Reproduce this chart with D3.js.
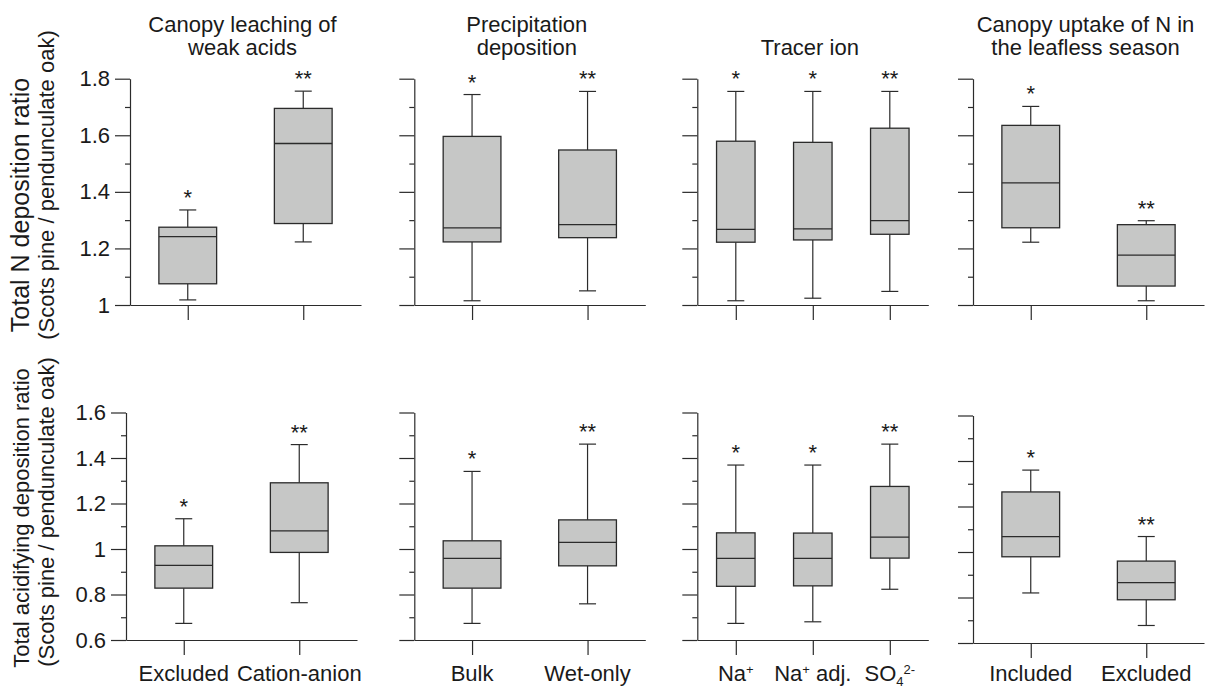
<!DOCTYPE html>
<html>
<head>
<meta charset="utf-8">
<script src="https://cdn.jsdelivr.net/npm/d3@7"></script>
<style>
  body { margin: 0; background: #fff; }
  svg { display: block; font-family: "Liberation Sans", Arial, Helvetica, sans-serif; }
</style>
</head>
<body>
<svg id="chart" width="1207" height="689"></svg>
<script>
// ---- data ----
const panelTitles = [
  ['Canopy leaching of', 'weak acids'],
  ['Precipitation', 'deposition'],
  ['Tracer ion'],
  ['Canopy uptake of N in', 'the leafless season']
];
// ^{..} = superscript, _{..} = subscript
const categories = [
  ['Excluded', 'Cation-anion'],
  ['Bulk', 'Wet-only'],
  ['Na^{+}', 'Na^{+} adj.', 'SO_{4}^{2-}'],
  ['Included', 'Excluded']
];
const stars = [
  ['*', '**'],
  ['*', '**'],
  ['*', '*', '**'],
  ['*', '**']
];
// [whisker low, Q1, median, Q3, whisker high]
const totalNStats = [
  [[1.018, 1.075, 1.242, 1.275, 1.336], [1.223, 1.288, 1.571, 1.695, 1.756]],
  [[1.015, 1.223, 1.273, 1.596, 1.744], [1.050, 1.238, 1.284, 1.548, 1.755]],
  [[1.015, 1.222, 1.267, 1.579, 1.755], [1.024, 1.230, 1.269, 1.575, 1.755], [1.048, 1.250, 1.298, 1.625, 1.755]],
  [[1.222, 1.273, 1.432, 1.635, 1.702], [1.015, 1.067, 1.176, 1.284, 1.298]]
];
const acidStats = [
  [[0.673, 0.828, 0.928, 1.014, 1.133], [0.764, 0.985, 1.080, 1.291, 1.459]],
  [[0.673, 0.828, 0.959, 1.036, 1.341], [0.759, 0.926, 1.029, 1.128, 1.461]],
  [[0.673, 0.836, 0.959, 1.071, 1.369], [0.680, 0.838, 0.959, 1.070, 1.369], [0.823, 0.960, 1.052, 1.275, 1.461]],
  [[0.820, 0.979, 1.068, 1.264, 1.360], [0.677, 0.790, 0.865, 0.960, 1.068]]
];
const totalNTicks = [1, 1.2, 1.4, 1.6, 1.8];
const acidTicks = [0.6, 0.8, 1, 1.2, 1.4, 1.6];
const rowTitles = [
  ['Total N deposition ratio', '(Scots pine / pendunculate oak)'],
  ['Total acidifying deposition ratio', '(Scots pine / pendunculate oak)']
];

// ---- layout ----
const W = 231;
const FONT = 22;
const INK = '#2b2b2b';
const BOX_FILL = '#c6c7c6';

const rows = [
  { stats: totalNStats, ticks: totalNTicks, bottom: 305, top: 78.7,
    xs: [130, 414.3, 697.3, 973], shift: [0, 0, 0, 0], xLabels: false,
    titleY: 205, titleY2: 185, titleSize: 25 },
  { stats: acidStats, ticks: acidTicks, bottom: 640, top: 412.5,
    xs: [126, 414.3, 697.3, 973], shift: [0, 0, 0, 3], xLabels: true,
    titleY: 518, titleY2: 512, titleSize: 22 }
];

const svg = d3.select('#chart');
const fmt = d => String(+d.toFixed(1));

function styleAxis(sel) {
  sel.attr('font-size', FONT).attr('font-family', null);
  sel.selectAll('path, line').attr('stroke', INK).attr('stroke-width', 1.2);
  sel.selectAll('text').attr('fill', '#1a1a1a');
}

// writes a label with sub/superscripts into a text element
function richLabel(text, label) {
  const parts = label.split(/(\^\{[^}]*\}|_\{[^}]*\})/).filter(s => s.length);
  let shift = 0;
  parts.forEach(p => {
    let target = 0, size = null, str = p;
    if (p.startsWith('^{')) { target = -7; size = 13; str = p.slice(2, -1); }
    else if (p.startsWith('_{')) { target = 5; size = 13; str = p.slice(2, -1); }
    const t = text.append('tspan').attr('dy', target - shift).text(str);
    if (size) t.attr('font-size', size);
    shift = target;
  });
}

rows.forEach((row, r) => {
  const [lo, hi] = d3.extent(row.ticks);
  const minor = d3.range(Math.round(lo * 10), Math.round(hi * 10) + 1)
    .map(v => v / 10)
    .filter(v => !row.ticks.some(t => Math.abs(t - v) < 1e-6));

  row.stats.forEach((panelStats, p) => {
    const g = svg.append('g')
      .attr('transform', `translate(${row.xs[p]},${row.shift[p]})`);

    const y = d3.scaleLinear().domain([lo, hi]).range([row.bottom, row.top]);
    const x = d3.scalePoint().domain(categories[p]).range([0, W]).padding(0.5);
    const bw = x.step() * 0.5;
    const cap = 17;

    // minor y ticks
    g.append('g')
      .call(d3.axisLeft(y).tickValues(minor).tickSize(5).tickFormat(''))
      .call(styleAxis)
      .call(a => a.select('.domain').remove());

    // major y ticks + spine
    g.append('g')
      .call(d3.axisLeft(y).tickValues(row.ticks).tickSize(15).tickSizeOuter(0)
        .tickPadding(5).tickFormat(p === 0 ? fmt : ''))
      .call(styleAxis);

    // x axis
    g.append('g')
      .attr('transform', `translate(0,${row.bottom})`)
      .call(d3.axisBottom(x).tickSize(15).tickSizeOuter(0).tickFormat(''))
      .call(styleAxis);

    if (row.xLabels) {
      categories[p].forEach(c => {
        const t = g.append('text')
          .attr('x', x(c))
          .attr('y', 681 - row.shift[p])
          .attr('text-anchor', 'middle')
          .attr('font-size', FONT)
          .attr('fill', '#1a1a1a');
        richLabel(t, c);
      });
    }

    // boxes
    const boxes = g.selectAll('g.box')
      .data(panelStats.map((s, i) => ({ s, cat: categories[p][i], star: stars[p][i] })))
      .join('g')
      .attr('class', 'box')
      .attr('transform', d => `translate(${x(d.cat)},0)`);

    boxes.append('line')
      .attr('y1', d => y(d.s[0])).attr('y2', d => y(d.s[1]))
      .attr('stroke', INK).attr('stroke-width', 1.2);
    boxes.append('line')
      .attr('y1', d => y(d.s[3])).attr('y2', d => y(d.s[4]))
      .attr('stroke', INK).attr('stroke-width', 1.2);
    boxes.selectAll('line.cap')
      .data(d => [d.s[0], d.s[4]])
      .join('line')
      .attr('class', 'cap')
      .attr('x1', -cap / 2).attr('x2', cap / 2)
      .attr('y1', v => y(v)).attr('y2', v => y(v))
      .attr('stroke', INK).attr('stroke-width', 1.2);
    boxes.append('rect')
      .attr('x', -bw / 2)
      .attr('width', bw)
      .attr('y', d => y(d.s[3]))
      .attr('height', d => y(d.s[1]) - y(d.s[3]))
      .attr('fill', BOX_FILL)
      .attr('stroke', INK).attr('stroke-width', 1.3);
    boxes.append('line')
      .attr('x1', -bw / 2).attr('x2', bw / 2)
      .attr('y1', d => y(d.s[2])).attr('y2', d => y(d.s[2]))
      .attr('stroke', INK).attr('stroke-width', 1.3);
    boxes.append('text')
      .attr('y', d => y(d.s[4]) - 5)
      .attr('text-anchor', 'middle')
      .attr('font-size', FONT)
      .attr('fill', '#1a1a1a')
      .text(d => d.star);

    // panel titles (top row only)
    if (r === 0) {
      const lines = panelTitles[p];
      const base = lines.length === 1 ? [55] : [31.5, 55];
      lines.forEach((ln, k) => {
        g.append('text')
          .attr('x', W / 2 - 3)
          .attr('y', base[k])
          .attr('text-anchor', 'middle')
          .attr('font-size', FONT)
          .attr('fill', '#1a1a1a')
          .text(ln);
      });
    }
  });

  // row y-axis titles
  svg.append('text')
    .attr('transform', `translate(29,${row.titleY}) rotate(-90)`)
    .attr('text-anchor', 'middle')
    .attr('font-size', row.titleSize)
    .attr('fill', '#1a1a1a')
    .text(rowTitles[r][0]);
  svg.append('text')
    .attr('transform', `translate(53.5,${row.titleY2}) rotate(-90)`)
    .attr('text-anchor', 'middle')
    .attr('font-size', FONT)
    .attr('fill', '#1a1a1a')
    .text(rowTitles[r][1]);
});
</script>
</body>
</html>
